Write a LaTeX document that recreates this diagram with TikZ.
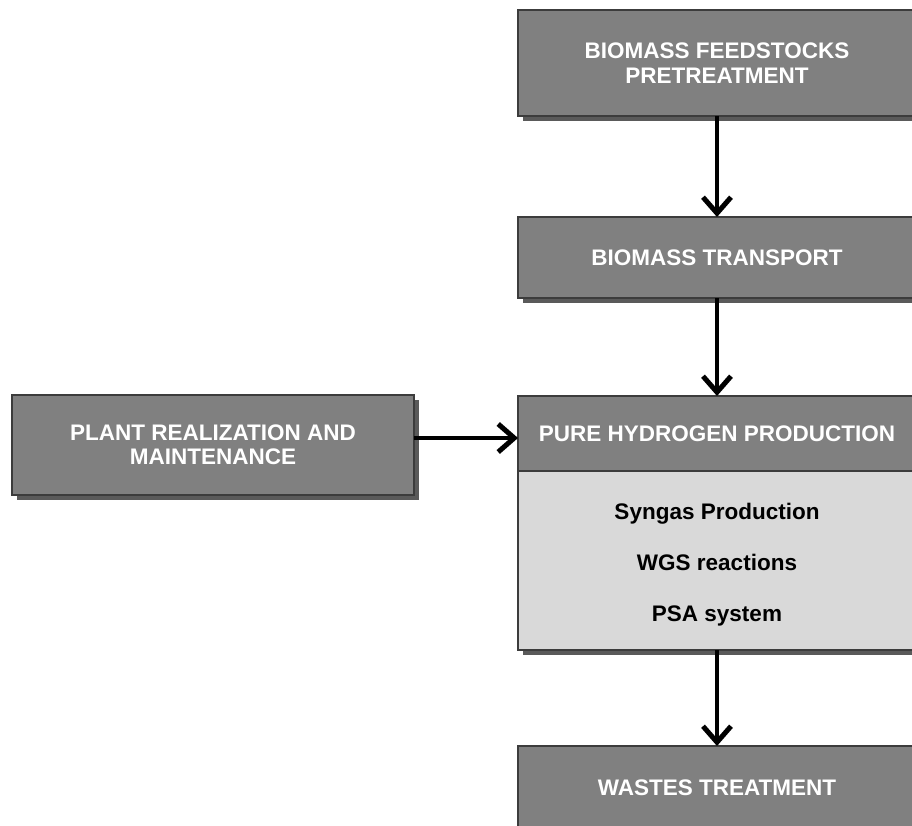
\documentclass[tikz,border=0pt]{standalone}
\usepackage{fontspec}
\setmainfont{Liberation Sans}
\usetikzlibrary{arrows.meta}

\definecolor{boxdark}{HTML}{808080}
\definecolor{boxlight}{HTML}{D9D9D9}
\definecolor{edgegray}{HTML}{3C3C3C}
\definecolor{shadowgray}{HTML}{5A5A5A}

\tikzset{
  x=1pt, y=-1pt,
  panel/.style={rectangle, draw=edgegray, line width=1.3pt, inner sep=0pt,
    outer sep=0pt, align=center},
  darkpanel/.style={panel, fill=boxdark, text=white,
    font=\fontsize{22.5}{24.5}\selectfont\bfseries},
  lightpanel/.style={panel, fill=boxlight},
  steptext/.style={align=center, inner sep=0pt,
    font=\fontsize{22.5}{51}\selectfont\bfseries},
  flow/.style={line width=4.5pt,
    -{Straight Barb[length=16pt,width=28pt,line width=5pt]}},
}

% box with a drop shadow: #1 name, #2 style, #3 x0, #4 y0, #5 x1, #6 y1, #7 text
\newcommand{\shadedpanel}[7]{%
  \fill[shadowgray] (#3+5,#4+5) rectangle (#5+5,#6+5);
  \node[#2, minimum width=#5-#3, minimum height=#6-#4] (#1)
    at ({(#3+#5)/2},{(#4+#6)/2}) {#7};
}

\begin{document}
\begin{tikzpicture}
\useasboundingbox (0,0) rectangle (912,826);

\shadedpanel{feed}{darkpanel}{518}{10}{916}{116}{BIOMASS FEEDSTOCKS\\PRETREATMENT}
\shadedpanel{transport}{darkpanel}{518}{217}{916}{298}{BIOMASS TRANSPORT}
\fill[shadowgray] (523,401) rectangle (921,655);
\node[lightpanel, minimum width=398, minimum height=179] (proc) at (717,560.5) {};
\node[darkpanel, minimum width=398, minimum height=75] (hydro) at (717,433.5) {PURE HYDROGEN PRODUCTION};
\node[steptext] (steps) at (717,565) {Syngas Production\\WGS reactions\\PSA system};
\shadedpanel{plant}{darkpanel}{12}{395}{414}{495}{PLANT REALIZATION AND\\MAINTENANCE}
\shadedpanel{waste}{darkpanel}{518}{746}{916}{830}{WASTES TREATMENT}

\draw[flow] (feed.south) -- (transport.north);
\draw[flow] (transport.south) -- (hydro.north);
\draw[flow] (proc.south) -- (waste.north);
\draw[flow] (plant.east |- 0,438) -- (hydro.west |- 0,438);
\end{tikzpicture}
\end{document}
